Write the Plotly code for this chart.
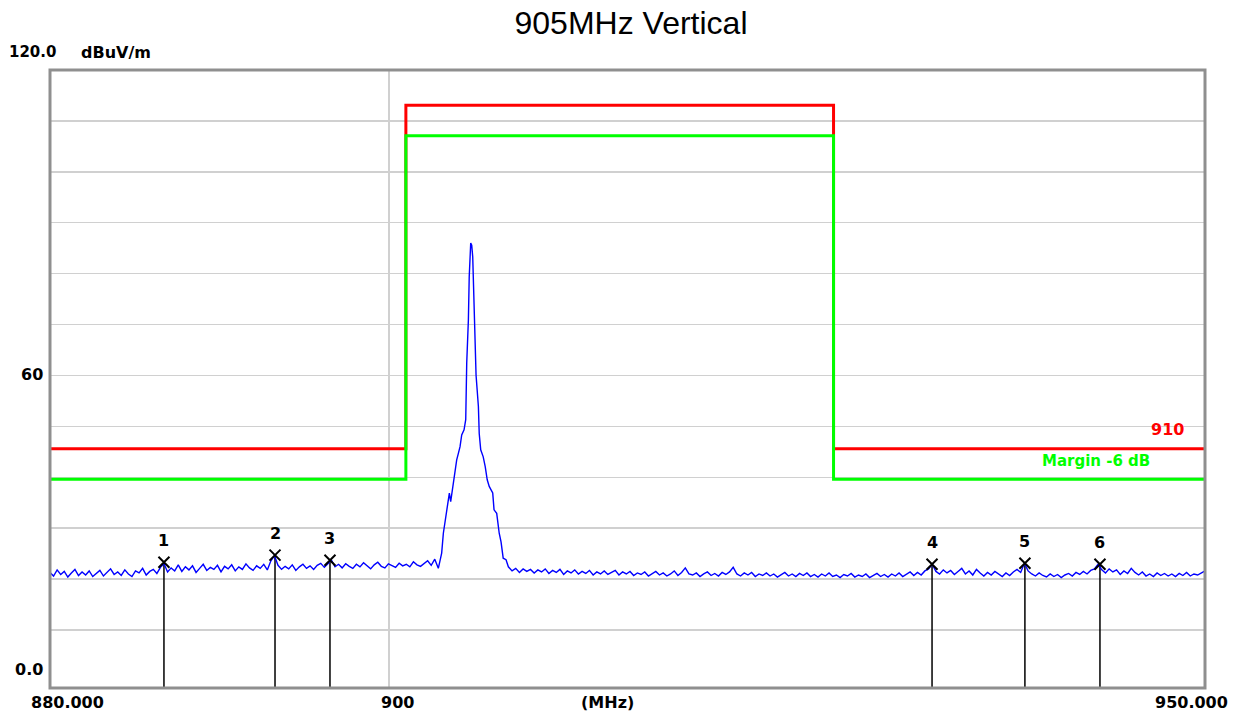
import numpy as np
import plotly.graph_objects as go

# ---------------- data ----------------
title_text = "905MHz Vertical"
x_start, x_stop = 880.0, 950.0
y_min, y_max = -1.4, 120.0

# limit line "910" (step definition) and margin
limit_freq = [880.0, 901.0, 926.9, 950.0]
limit_level = [45.6, 113.1, 45.6, 45.6]
margin_db = -6.0

# measured trace: noise below the carrier (sweep points between start/stop)
left_start, left_stop = 880.0, 902.94
left_levels = [
    21.3, 20.6, 21.8, 20.9, 21.5, 20.4, 21.2, 21.9, 20.7, 21.4,
    20.8, 21.6, 20.5, 21.1, 21.7, 20.6, 21.3, 22.0, 20.9, 21.4,
    20.7, 21.8, 21.0, 20.5, 21.6, 21.2, 22.1, 20.8, 21.5, 21.9,
    21.1, 22.3, 23.0, 21.4, 22.2, 21.6, 22.8, 21.5, 22.4, 21.8,
    22.6, 21.3, 22.1, 22.9, 21.7, 22.3, 21.9, 22.7, 21.4, 22.5,
    22.0, 22.8, 21.6, 22.4, 21.9, 23.0, 22.2, 21.7, 22.6, 22.1,
    22.9, 21.8, 23.6, 24.6, 22.7, 21.9, 22.5, 22.0, 22.8, 21.7,
    22.4, 22.9, 22.1, 22.6, 21.9, 22.7, 23.1, 22.3, 23.0, 23.7,
    22.4, 22.9, 22.2, 23.0, 22.5, 22.1, 22.9, 22.4, 23.2, 22.6,
    22.0, 22.8, 23.3, 22.5, 22.2, 23.0, 22.7, 22.3, 23.1, 22.6,
    22.9, 22.4, 23.4, 22.8, 22.5, 23.1, 23.6, 22.7, 23.9, 22.1,
]

# carrier at 905 MHz
peak_freq = [903.14, 903.24, 903.34, 903.60, 903.68, 903.80, 903.88, 904.04,
             904.14, 904.24, 904.34, 904.48, 904.58, 904.64, 904.74, 904.79,
             904.88, 904.94, 905.00, 905.08, 905.20, 905.34, 905.39, 905.48,
             905.63, 905.75, 905.87, 905.99, 906.20, 906.28, 906.44, 906.59,
             906.70, 906.83, 907.00]
peak_level = [25.1, 29.0, 31.0, 36.9, 35.2, 38.2, 40.1, 43.4,
              44.7, 46.0, 48.3, 49.3, 51.3, 62.4, 70.9, 79.4,
              86.0, 85.6, 83.3, 75.5, 60.1, 53.9, 48.6, 45.4,
              44.0, 42.1, 39.5, 38.2, 36.9, 33.6, 32.9, 29.0,
              27.3, 24.1, 23.8]

right_start, right_stop = 907.14, 950.0
right_levels = [
    22.4, 21.6, 22.1, 21.3, 22.0, 21.5, 21.9, 21.2, 21.8, 21.4,
    22.0, 21.1, 21.7, 21.3, 21.9, 20.9, 21.6, 21.2, 21.8, 21.0,
    21.5, 21.1, 21.7, 20.8, 21.4, 21.0, 21.6, 20.9, 21.3, 21.7,
    20.8, 21.4, 21.0, 21.5, 20.7, 21.2, 20.9, 21.4, 20.6, 21.1,
    21.5, 20.8, 21.2, 20.6, 21.0, 21.6, 20.7, 21.3, 22.2, 21.0,
    20.8, 21.2, 20.5, 21.0, 21.4, 20.7, 21.1, 20.6, 21.3, 20.9,
    21.4, 22.3, 21.0, 20.6, 21.2, 20.8, 21.3, 20.5, 21.0, 20.7,
    21.2, 20.6, 21.0, 20.4, 20.9, 21.3, 20.6, 21.0, 20.5, 21.1,
    20.7, 21.2, 20.5, 20.9, 20.4, 21.0, 20.6, 21.2, 20.5, 20.8,
    20.3, 20.9, 20.6, 21.1, 20.4, 20.8, 20.5, 21.0, 20.3, 20.7,
    21.1, 20.5, 20.9, 20.4, 21.0, 20.6, 21.2, 20.5, 20.9, 21.4,
    20.7, 21.3, 20.8, 21.6, 22.0, 22.9, 21.5, 21.0, 21.8, 21.2,
    21.7, 20.9, 21.5, 22.1, 21.0, 21.6, 20.8, 21.9, 21.2, 20.6,
    21.3, 20.8, 21.5, 21.0, 20.5, 21.2, 20.7, 21.4, 21.9, 21.3,
    23.1, 21.6, 21.0, 20.6, 21.2, 20.7, 20.4, 21.0, 20.5, 20.9,
    20.3, 20.8, 21.1, 20.6, 21.3, 20.9, 21.5, 21.0, 21.7, 22.0,
    22.9, 21.8, 21.2, 22.0, 21.4, 21.8, 20.9, 21.6, 21.1, 22.1,
    21.3, 20.8, 21.4, 20.6, 21.0, 20.5, 21.2, 20.7, 21.1, 20.6,
    21.0, 20.5, 21.1, 20.7, 21.3, 20.6, 21.0, 20.8, 21.2, 21.6,
]

# markers
marker_labels = ["1", "2", "3", "4", "5", "6"]
marker_freq = [886.67, 893.22, 896.48, 932.97, 938.73, 943.41]
marker_level = [23.3, 24.7, 23.7, 22.9, 23.1, 22.9]

grid_levels = [10, 20, 30, 40, 50, 60, 70, 80, 90, 100, 110]
grid_freqs = [900]

# ---------------- figure ----------------
W, H = 1236, 717
L, T, R, B = 50, 70, 1236 - 1205, 717 - 688
PW, PH = W - L - R, H - T - B


def px(xp, yp):
    """reference-image pixel -> paper coordinates"""
    return (xp - L) / PW, (H - B - yp) / PH


left_freq = np.geomspace(left_start, left_stop, len(left_levels))
right_freq = np.geomspace(right_start, right_stop, len(right_levels))
trace_freq = list(left_freq) + peak_freq + list(right_freq)
trace_level = left_levels + peak_level + right_levels

margin_level = [v + margin_db for v in limit_level]

fig = go.Figure()

fig.add_trace(go.Scatter(x=limit_freq, y=limit_level, mode="lines",
                         line=dict(color="#ff0000", width=3, shape="hv"),
                         hoverinfo="skip"))
fig.add_trace(go.Scatter(x=limit_freq, y=margin_level, mode="lines",
                         line=dict(color="#00ff00", width=3, shape="hv"),
                         hoverinfo="skip"))

# marker stems
stem_x, stem_y = [], []
for f, v in zip(marker_freq, marker_level):
    stem_x += [f, f, None]
    stem_y += [v, y_min, None]
fig.add_trace(go.Scatter(x=stem_x, y=stem_y, mode="lines",
                         line=dict(color="#000000", width=1.5),
                         hoverinfo="skip"))

fig.add_trace(go.Scatter(x=trace_freq, y=trace_level, mode="lines",
                         line=dict(color="#0000ff", width=1.4),
                         hoverinfo="skip"))

fig.add_trace(go.Scatter(x=marker_freq, y=marker_level, mode="markers",
                         marker=dict(symbol="x-thin", size=11,
                                     line=dict(color="#000000", width=2)),
                         hoverinfo="skip"))

FONT = "DejaVu Sans"
annotations = []
for lab, f, v in zip(marker_labels, marker_freq, marker_level):
    annotations.append(dict(x=np.log10(f), y=v, xref="x", yref="y", text="<b>%s</b>" % lab,
                            showarrow=False, yshift=22,
                            font=dict(family=FONT, size=16, color="#000000")))


def add_lab(text, xp, yp, anchor="center", color="#000000", size=16):
    xx, yy = px(xp, yp)
    annotations.append(dict(x=xx, y=yy, xref="paper", yref="paper", text="<b>%s</b>" % text,
                            showarrow=False, xanchor=anchor, yanchor="middle",
                            font=dict(family=FONT, size=size, color=color)))


add_lab("120.0", 32, 52, size=15)
add_lab("dBuV/m", 116, 52)
add_lab("60", 45, 374, "right")
add_lab("0.0", 45, 669, "right")
add_lab("880.000", 67, 702)
add_lab("900", 397, 702)
add_lab("(MHz)", 607, 702)
add_lab("950.000", 1191, 702)
add_lab("910", 1186, 429, "right", "#ff0000")
add_lab("Margin -6 dB", 1152, 461, "right", "#00ff00", 15)

fig.update_layout(
    width=W, height=H,
    margin=dict(l=L, r=R, t=T, b=B),
    paper_bgcolor="#ffffff", plot_bgcolor="#ffffff",
    showlegend=False,
    hovermode=False,
    title=dict(text=title_text, x=631 / W, xanchor="center",
               y=1 - 23 / H, yanchor="middle",
               font=dict(family="Liberation Sans", size=32, color="#000000")),
    annotations=annotations,
    xaxis=dict(type="log", range=[np.log10(x_start), np.log10(x_stop)],
               tickvals=grid_freqs, showticklabels=False, showgrid=True,
               gridcolor="#d0d0d0", gridwidth=1.5, zeroline=False, showline=False, ticks=""),
    yaxis=dict(range=[y_min, y_max], tickvals=grid_levels, showticklabels=False,
               showgrid=True, gridcolor="#d0d0d0", gridwidth=1.5, zeroline=False,
               showline=False, ticks=""),
    shapes=[dict(type="rect", xref="paper", yref="paper", x0=0, y0=0, x1=1, y1=1,
                 line=dict(color="#8f8f8f", width=3), layer="above")],
)

# remove the browser's default 8 px body margin so the figure sits at (0, 0)
fig.write_html("out.html",
               config={"displayModeBar": False, "staticPlot": True},
               post_script="document.body.style.margin='0';document.body.style.overflow='hidden';")
